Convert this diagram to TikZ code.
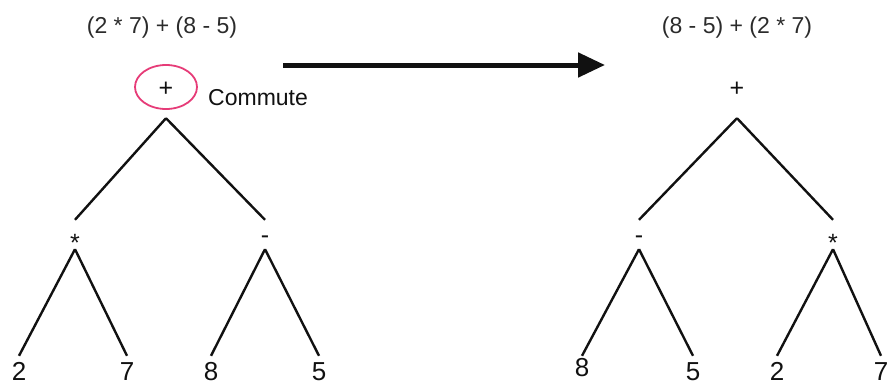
\documentclass[tikz,border=0pt]{standalone}
\usepackage{fontspec}
\setmainfont{Liberation Sans}
\usepackage{tikz}
\usetikzlibrary{
    arrows.meta,
    shapes.geometric
}
\definecolor{ink}  {HTML}{111111}
\definecolor{expr} {HTML}{2B2B2B}
\definecolor{ring} {HTML}{E63C78}

% star glyph sits high in the font, drop it to the dash line
\newcommand{\opstar}{\raisebox{-8pt}{*}}

\begin{document}
\begin{tikzpicture}[
    x=1pt, y=-1pt,
    line join=round,
    %% --- semantic styles ---
    exprlabel/.style = {font=\fontsize{23}{28}\selectfont, text=expr,
                        inner sep=0pt, anchor=base},
    opnode/.style    = {font=\fontsize{25}{30}\selectfont, text=ink,
                        inner sep=0pt, text height=18pt, text depth=0pt,
                        minimum height=29pt},
    rootnode/.style  = {opnode, minimum height=62pt},
    leafnode/.style  = {opnode, font=\fontsize{26}{31}\selectfont,
                        text height=18.7pt, minimum height=30pt},
    treeedge/.style  = {draw=ink, line width=2.4pt},
    ringmark/.style  = {ellipse, draw=ring, line width=1.8pt,
                        minimum width=62pt, minimum height=44pt},
    stepflow/.style  = {-{Triangle[length=27pt, width=24pt]}, draw=ink,
                        line width=5pt},
    notelabel/.style = {font=\fontsize{23}{28}\selectfont, text=ink,
                        inner sep=0pt, anchor=base west}
]
\useasboundingbox (0,0) rectangle (890,386);

%% =====================================================
%% BEFORE -- (2 * 7) + (8 - 5)
%% =====================================================
\node[exprlabel] (EXL) at (162, 33) {(2 * 7) + (8 - 5)};

\node[rootnode] (rootL) at (166, 87) {+};
\node[ringmark] (RING) at (rootL) {};
\node[notelabel] (NOTE) at (208, 105) {Commute};

\node[opnode] (mulL) at ( 75, 234.5) {\opstar};
\node[opnode] (subL) at (265, 234.5) {-};

\node[leafnode] (twoL)   at ( 19, 371) {2};
\node[leafnode] (sevenL) at (127, 371) {7};
\node[leafnode] (eightL) at (211, 371) {8};
\node[leafnode] (fiveL)  at (319, 371) {5};

%% =====================================================
%% Rewrite step
%% =====================================================
\coordinate (flowS) at (283, 65);
\coordinate (flowE) at (605, 65);
\draw[stepflow] (flowS) -- (flowE);

%% =====================================================
%% AFTER -- (8 - 5) + (2 * 7)
%% =====================================================
\node[exprlabel] (EXR) at (737, 33) {(8 - 5) + (2 * 7)};

\node[rootnode] (rootR) at (737, 87) {+};

\node[opnode] (subR) at (639, 234.5) {-};
\node[opnode] (mulR) at (833, 234.5) {\opstar};

\node[leafnode, minimum height=22pt] (eightR) at (582, 367) {8};
\node[leafnode] (fiveR)  at (693, 371) {5};
\node[leafnode] (twoR)   at (777, 371) {2};
\node[leafnode] (sevenR) at (881, 371) {7};

% tree edges, parent south to child north
\foreach \P/\C in {rootL/mulL, rootL/subL, mulL/twoL, mulL/sevenL,
                   subL/eightL, subL/fiveL,
                   rootR/subR, rootR/mulR, subR/eightR, subR/fiveR,
                   mulR/twoR, mulR/sevenR}
    \draw[treeedge] (\P.south) -- (\C.north);

\end{tikzpicture}
\end{document}
